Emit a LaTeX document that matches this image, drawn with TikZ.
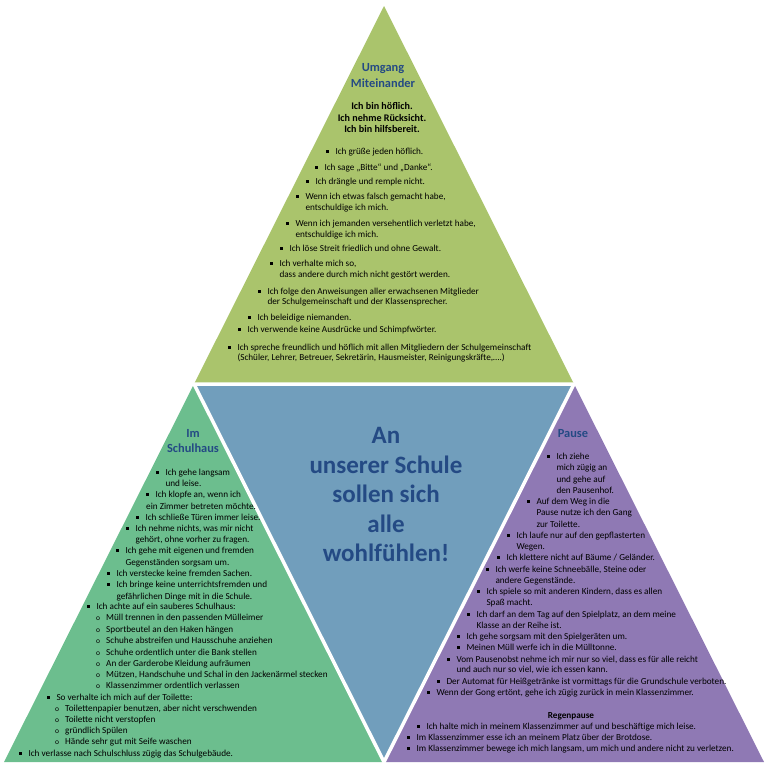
\documentclass[tikz,border=0pt]{standalone}
\usepackage{fontspec}
\setmainfont{Carlito}
\definecolor{topg}{RGB}{170,196,108}
\definecolor{leftg}{RGB}{108,190,142}
\definecolor{midb}{RGB}{113,158,188}
\definecolor{purp}{RGB}{143,121,180}
\definecolor{navy}{RGB}{36,74,132}
\newcounter{nc}
\newcommand\sqb{\rule[1.4pt]{2.7pt}{2.7pt}}
\newcommand\Bl[3]{\stepcounter{nc}\node[bt] (n\arabic{nc}) at (#1-1.3,#2+3) {\makebox[9.6pt][l]{\sqb}#3};}
\newcommand\Ln[3]{\stepcounter{nc}\node[bt] (n\arabic{nc}) at (#1,#2+3) {#3};}
\newcommand\Sb[3]{\stepcounter{nc}\node[bt] (n\arabic{nc}) at (#1-2,#2+3) {\makebox[10pt][l]{\fontsize{7.5}{8}\selectfont o}#3};}
\begin{document}
\begin{tikzpicture}[x=1pt,y=-1pt,
  bt/.style={anchor=base west, inner sep=0pt, font=\fontsize{9.2}{11}\selectfont, text=black},
  ttl/.style={anchor=base, inner sep=0pt, font=\fontsize{12.4}{14}\selectfont\bfseries, text=navy},
  motto/.style={anchor=base, inner sep=0pt, font=\fontsize{10.1}{12}\selectfont\bfseries, text=black},
  rgp/.style={anchor=base, inner sep=0pt, font=\fontsize{9.2}{11}\selectfont\bfseries, text=black},
  big/.style={anchor=base, inner sep=0pt, font=\fontsize{25}{28}\selectfont\bfseries, text=navy}]
\useasboundingbox (0,0) rectangle (768,766);
\coordinate (A) at (384,6);
\coordinate (L) at (4,762);
\coordinate (R) at (764,762);
\coordinate (ML) at (194,384);
\coordinate (MR) at (574,384);
\coordinate (MB) at (384,762);
\fill[topg] (A)--(ML)--(MR)--cycle;
\fill[leftg] (ML)--(L)--(MB)--cycle;
\fill[purp] (MR)--(MB)--(R)--cycle;
\fill[midb] (ML)--(MR)--(MB)--cycle;
\draw[white, line width=3.5pt] (ML)--(MR)--(MB)--cycle;
% top
\node[ttl] (tU) at (383,71.5) {Umgang};
\node[ttl] (tM) at (383,87.5) {Miteinander};
\node[motto] (m1) at (382,109.5) {Ich bin höflich.};
\node[motto] (m2) at (382,121.5) {Ich nehme Rücksicht.};
\node[motto] (m3) at (382,132.5) {Ich bin hilfsbereit.};
\Bl{327}{151}{Ich grüße jeden höflich.}
\Bl{316}{167}{Ich sage „Bitte“ und „Danke“.}
\Bl{307}{181}{Ich drängle und remple nicht.}
\Bl{297}{196}{Wenn ich etwas falsch gemacht habe,}
\Ln{305.3}{207}{entschuldige ich mich.}
\Bl{287}{223}{Wenn ich jemanden versehentlich verletzt habe,}
\Ln{295.3}{234}{entschuldige ich mich.}
\Bl{281}{248}{Ich löse Streit friedlich und ohne Gewalt.}
\Bl{271}{263}{Ich verhalte mich so,}
\Ln{279.3}{274}{dass andere durch mich nicht gestört werden.}
\Bl{259}{291}{Ich folge den Anweisungen aller erwachsenen Mitglieder}
\Ln{267.3}{301}{der Schulgemeinschaft und der Klassensprecher.}
\Bl{249}{317}{Ich beleidige niemanden.}
\Bl{239}{329}{Ich verwende keine Ausdrücke und Schimpfwörter.}
\Bl{229}{347}{Ich spreche freundlich und höflich mit allen Mitgliedern der Schulgemeinschaft}
\Ln{237.3}{357}{(Schüler, Lehrer, Betreuer, Sekretärin, Hausmeister, Reinigungskräfte,….)}
% left
\node[ttl] (tI) at (193,437.5) {Im};
\node[ttl] (tS) at (193,452.5) {Schulhaus};
\Bl{157}{472}{Ich gehe langsam}
\Ln{165.3}{483}{und leise.}
\Bl{147}{494}{Ich klopfe an, wenn ich}
\Ln{146}{506}{ein Zimmer betreten möchte.}
\Bl{137}{517}{Ich schließe Türen immer leise.}
\Bl{127}{528}{Ich nehme nichts, was mir nicht}
\Ln{135.3}{539}{gehört, ohne vorher zu fragen.}
\Bl{117}{550}{Ich gehe mit eigenen und fremden}
\Ln{125.3}{562}{Gegenständen sorgsam um.}
\Bl{108}{573}{Ich verstecke keine fremden Sachen.}
\Bl{108}{584}{Ich bringe keine unterrichtsfremden und}
\Ln{116.3}{596}{gefährlichen Dinge mit in die Schule.}
\Bl{88}{606}{Ich achte auf ein sauberes Schulhaus:}
\Sb{98}{617}{Müll trennen in den passenden Mülleimer}
\Sb{98}{629}{Sportbeutel an den Haken hängen}
\Sb{98}{640}{Schuhe abstreifen und Hausschuhe anziehen}
\Sb{98}{652}{Schuhe ordentlich unter die Bank stellen}
\Sb{98}{663}{An der Garderobe Kleidung aufräumen}
\Sb{98}{674}{Mützen, Handschuhe und Schal in den Jackenärmel stecken}
\Sb{98}{685}{Klassenzimmer ordentlich verlassen}
\Bl{48}{697}{So verhalte ich mich auf der Toilette:}
\Sb{57}{708}{Toilettenpapier benutzen, aber nicht verschwenden}
\Sb{57}{719}{Toilette nicht verstopfen}
\Sb{57}{730}{gründlich Spülen}
\Sb{57}{741}{Hände sehr gut mit Seife waschen}
\Bl{20}{753}{Ich verlasse nach Schulschluss zügig das Schulgebäude.}
% center
\node[big] (c1) at (386,443) {An};
\node[big] (c2) at (386,473) {unserer Schule};
\node[big] (c3) at (386,502) {sollen sich};
\node[big] (c4) at (386,532) {alle};
\node[big] (c5) at (386,561) {wohlfühlen!};
% right
\node[ttl] (tP) at (573,437.5) {Pause};
\Bl{548}{456}{Ich ziehe}
\Ln{556.3}{467}{mich zügig an}
\Ln{556.3}{479}{und gehe auf}
\Ln{556.3}{490}{den Pausenhof.}
\Bl{528}{501}{Auf dem Weg in die}
\Ln{536.3}{512}{Pause nutze ich den Gang}
\Ln{536.3}{524}{zur Toilette.}
\Bl{508}{535}{Ich laufe nur auf den gepflasterten}
\Ln{516.3}{546}{Wegen.}
\Bl{498}{557}{Ich klettere nicht auf Bäume / Geländer.}
\Bl{487}{569}{Ich werfe keine Schneebälle, Steine oder}
\Ln{495.3}{580}{andere Gegenstände.}
\Bl{478}{591}{Ich spiele so mit anderen Kindern, dass es allen}
\Ln{486.3}{602}{Spaß macht.}
\Bl{468}{614}{Ich darf an dem Tag auf den Spielplatz, an dem meine}
\Ln{476.3}{625}{Klasse an der Reihe ist.}
\Bl{458}{636}{Ich gehe sorgsam mit den Spielgeräten um.}
\Bl{458}{647}{Meinen Müll werfe ich in die Mülltonne.}
\Bl{448}{659}{Vom Pausenobst nehme ich mir nur so viel, dass es für alle reicht}
\Ln{456.3}{669}{und auch nur so viel, wie ich essen kann.}
\Bl{438}{681}{Der Automat für Heißgetränke ist vormittags für die Grundschule verboten.}
\Bl{428}{692}{Wenn der Gong ertönt, gehe ich zügig zurück in mein Klassenzimmer.}
\node[rgp] (rg) at (571,718) {Regenpause};
\Bl{418}{726}{Ich halte mich in meinem Klassenzimmer auf und beschäftige mich leise.}
\Bl{408}{737}{Im Klassenzimmer esse ich an meinem Platz über der Brotdose.}
\Bl{408}{748}{Im Klassenzimmer bewege ich mich langsam, um mich und andere nicht zu verletzen.}
\end{tikzpicture}
\end{document}
